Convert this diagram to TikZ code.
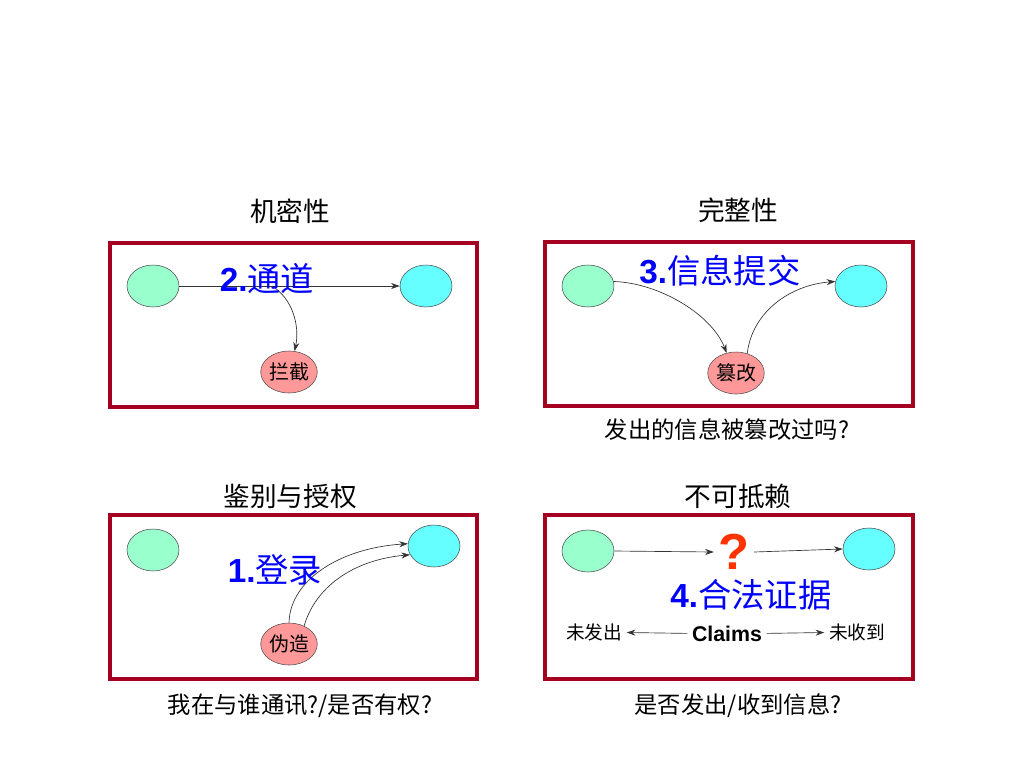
\documentclass[tikz,border=0pt]{standalone}
\usepackage{fontspec}
\setmainfont{Liberation Sans}
\newfontfamily\cjk{Noto Sans CJK SC}
\usetikzlibrary{arrows.meta,shapes.geometric}

\definecolor{framered}{HTML}{A50021}
\definecolor{sendgreen}{HTML}{99FFCC}
\definecolor{recvcyan}{HTML}{66FFFF}
\definecolor{evilred}{HTML}{FF9999}
\definecolor{labelblue}{HTML}{0000FF}
\definecolor{askred}{HTML}{FF3300}

% numbered step label: bold number, plain CJK words
\newcommand{\steplabel}[2]{\textbf{#1.}{\cjk #2}}

\begin{document}
\begin{tikzpicture}[
    x=0.75pt, y=-0.75pt, % pixel grid, y downwards
    frame/.style={
        draw=framered,
        line width=3pt
    },
    party/.style={
        ellipse,
        draw=black!70,
        line width=0.4pt,
        minimum width=39pt,
        minimum height=31.5pt,
        inner sep=0pt
    },
    sender/.style={party, fill=sendgreen},
    receiver/.style={party, fill=recvcyan},
    attacker/.style={
        party,
        fill=evilred,
        font=\cjk\fontsize{15}{15}\selectfont
    },
    title/.style={font=\cjk\fontsize{20}{20}\selectfont},
    caption/.style={font=\cjk\fontsize{17.5}{17.5}\selectfont},
    steptext/.style={
        text=labelblue,
        font=\fontsize{25}{25}\selectfont
    },
    line/.style={
        draw=black!80,
        line width=0.5pt,
        -{Stealth[length=6.5pt,width=4.5pt]}
    }
]
    \useasboundingbox (0,0) rectangle (1024,768);

    % --- Frames ---
    \draw [frame] (110,243) rectangle (477,407);
    \draw [frame] (545,242) rectangle (913,406);
    \draw [frame] (110,515) rectangle (477,679);
    \draw [frame] (545,515) rectangle (913,679);

    % --- Titles and captions ---
    \node [title] (conf) at (290,211) {机密性};
    \node [title] (integ) at (738,210) {完整性};
    \node [title] (auth) at (290,496) {鉴别与授权};
    \node [title] (nonrep) at (738,496) {不可抵赖};

    \node [caption] (capinteg) at (727,430) {发出的信息被篡改过吗?};
    \node [caption] (capauth) at (300,706) {我在与谁通讯?/是否有权?};
    \node [caption] (capnonrep) at (738,706) {是否发出/收到信息?};

    % --- Confidentiality ---
    \node [sender] (alice1) at (153,286) {};
    \node [receiver] (bob1) at (426,286) {};
    \node [attacker] (eve1) at (289,372) {拦截};
    \path [line] (alice1) -- coordinate[pos=0.42] (tap1) (bob1);
    \path [line] (tap1) .. controls (292,298) and (300,325) .. (eve1.75);
    \node [steptext] (channel) at (267,279) {\steplabel{2}{通道}};

    % --- Integrity ---
    \node [sender] (alice2) at (588,286) {};
    \node [receiver] (bob2) at (861,286) {};
    \node [attacker] (eve2) at (736,373) {篡改};
    \path [line] (alice2.10) .. controls (660,283) and (712,315) .. (eve2.115);
    \path [line] (eve2.60) .. controls (752,312) and (790,285) .. (bob2.170);
    \node [steptext] (submit) at (720,271) {\steplabel{3}{信息提交}};

    % --- Authentication ---
    \node [sender] (alice3) at (153,550) {};
    \node [receiver] (bob3) at (434,546) {};
    \node [attacker] (eve3) at (289,644) {伪造};
    \path [line] (eve3.north) .. controls (290,580) and (340,548) .. (bob3.175);
    \path [line] (eve3.50) .. controls (315,588) and (352,560) .. (bob3.200);
    \node [steptext] (login) at (275,570) {\steplabel{1}{登录}};

    % --- Non-repudiation ---
    \node [sender] (alice4) at (588,551) {};
    \node [receiver] (bob4) at (869,549) {};
    \node [text=askred, font=\bfseries\fontsize{38}{38}\selectfont] (ask) at (734,552) {?};
    \path [line] (alice4.east) -- (ask.west);
    \path [line] (ask.east) -- (bob4.west);
    \node [steptext] (proof) at (751,595) {\steplabel{4}{合法证据}};
    \node [font=\bfseries\fontsize{16}{16}\selectfont] (claims) at (727,634) {Claims};
    \node [font=\cjk\fontsize{14}{14}\selectfont] (nosend) at (594,632) {未发出};
    \node [font=\cjk\fontsize{14}{14}\selectfont] (norecv) at (857,632) {未收到};
    \path [line] (claims) -- (nosend);
    \path [line] (claims) -- (norecv);

\end{tikzpicture}
\end{document}
